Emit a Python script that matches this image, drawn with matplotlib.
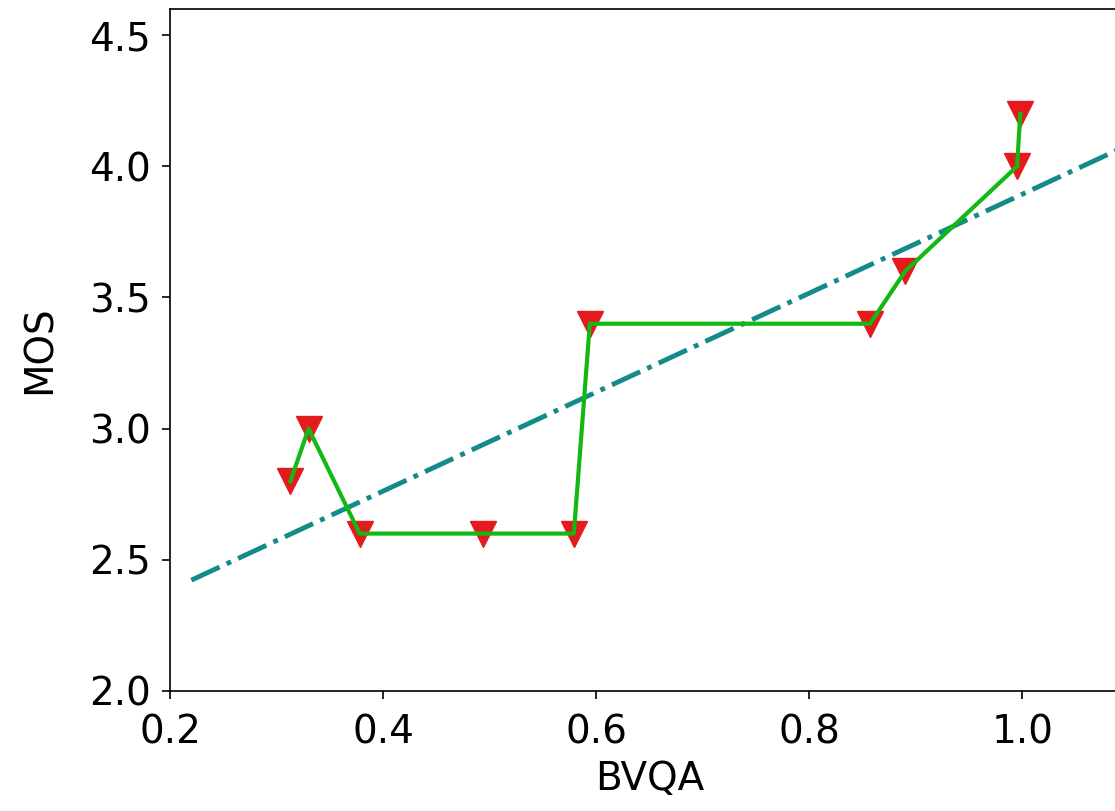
import matplotlib
matplotlib.use('Agg')
import matplotlib.pyplot as plt
import numpy as np

# BVQA score vs MOS
bvqa = [0.313, 0.330, 0.378, 0.494, 0.579, 0.594, 0.857, 0.890, 0.995, 0.998]
mos = [2.8, 3.0, 2.6, 2.6, 2.6, 3.4, 3.4, 3.6, 4.0, 4.2]

# linear fit over the points
k, b = np.polyfit(bvqa, mos, 1)
fit_x = np.array([0.22, 1.1])

fig = plt.figure(figsize=(11.15, 8.11), dpi=100)
ax = fig.add_axes([0.1525, 0.148, 0.86, 0.841])

ax.plot(fit_x, k * fit_x + b, '-.', color='#138b88', lw=3.5)
ax.plot(bvqa, mos, 'v', color='#e41a1c', ms=19, zorder=3)
ax.plot(bvqa, mos, '-', color='#14b814', lw=3, zorder=4)

ax.set_xlim(0.2, 1.1)
ax.set_ylim(2.0, 4.6)
ax.set_xticks([0.2, 0.4, 0.6, 0.8, 1.0])
ax.set_yticks([2.0, 2.5, 3.0, 3.5, 4.0, 4.5])
ax.tick_params(axis='x', labelsize=28, length=6, width=1.2, pad=10)
ax.tick_params(axis='y', labelsize=28, length=6, width=1.2, pad=8)
for s in ax.spines.values():
    s.set_linewidth(1.2)
ax.set_xlabel('BVQA', fontsize=28, labelpad=6)
ax.set_ylabel('MOS', fontsize=28, labelpad=22)

plt.savefig('out.png', dpi=100)
